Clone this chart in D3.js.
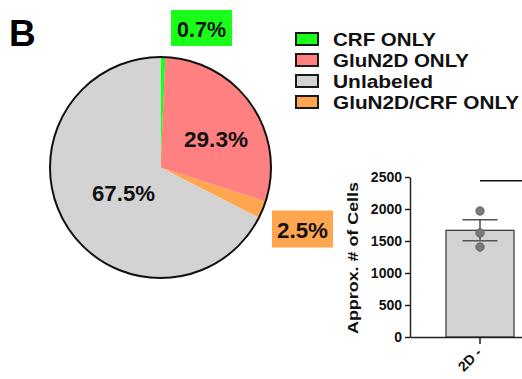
<!DOCTYPE html>
<html>
<head>
<meta charset="utf-8">
<script src="https://cdn.jsdelivr.net/npm/d3@7"></script>
<style>
  html, body { margin: 0; padding: 0; background: #fff; }
  svg { display: block; font-family: "Liberation Sans", Arial, sans-serif; }
</style>
</head>
<body>
<svg id="chart" width="522" height="379"></svg>
<script>
// Pie: share of cells per labelling group
const groups = ["CRF ONLY", "GluN2D ONLY", "Unlabeled", "GluN2D/CRF ONLY"];
const shares = [0.7, 29.3, 67.5, 2.5];
const groupColors = ["#19ff19", "#ff8080", "#d3d3d3", "#ffa64f"];
// draw order around the pie, clockwise from 12 o'clock
const pieOrder = [0, 1, 3, 2];

// Bar: approximate number of cells
const barCats = ["2D -"];
const barMeans = [1667];
const barSems = [164];
const barPoints = [[1969, 1625, 1406]];
const yTicks = [0, 500, 1000, 1500, 2000, 2500];
const sigLevel = 2440;

const svg = d3.select("#chart");

// Panel letter
svg.append("text").attr("x", 9).attr("y", 46)
  .attr("font-size", 37).attr("font-weight", "bold").text("B");

// ---- Pie ----
const cx = 160.5, cy = 167.5, R = 110.5;
const pieData = pieOrder.map(i => ({ i, v: shares[i] }));
const pie = d3.pie().sort(null).value(d => d.v).startAngle(0).endAngle(2 * Math.PI);
const arc = d3.arc().innerRadius(0).outerRadius(R);
const gPie = svg.append("g").attr("transform", `translate(${cx},${cy})`);
gPie.selectAll("path.slice").data(pie(pieData)).join("path")
  .attr("class", "slice")
  .attr("d", arc)
  .attr("fill", d => groupColors[d.data.i]);
gPie.append("circle").attr("r", R).attr("fill", "none")
  .attr("stroke", "#111").attr("stroke-width", 2);

// Percentage labels (offsets from the pie centre)
const labelSpec = [
  { i: 0, dx: 41, dy: -130.5, box: true, w: 61, h: 36, tl: 49 },
  { i: 1, dx: 55.5, dy: -20.5, box: false, tl: 64 },
  { i: 2, dx: -37, dy: 33.5, box: false, tl: 63 },
  { i: 3, dx: 142, dy: 70.5, box: true, w: 61, h: 37, tl: 51 }
];
labelSpec.forEach(s => {
  const g = svg.append("g").attr("transform", `translate(${cx + s.dx},${cy + s.dy})`);
  if (s.box) {
    g.append("rect").attr("x", -s.w / 2).attr("y", -s.h / 2 - 9)
      .attr("width", s.w).attr("height", s.h).attr("fill", groupColors[s.i]);
  }
  g.append("text").attr("text-anchor", "middle")
    .attr("font-size", 22).attr("font-weight", "bold").attr("fill", "#111")
    .attr("textLength", s.tl).attr("lengthAdjust", "spacingAndGlyphs")
    .text(d3.format(".1f")(shares[s.i]) + "%");
});

// ---- Legend ----
const legend = svg.append("g").attr("transform", "translate(296,33)");
groups.forEach((name, k) => {
  const row = legend.append("g").attr("transform", `translate(0,${k * 21})`);
  row.append("rect").attr("width", 22).attr("height", 12)
    .attr("fill", groupColors[k]).attr("stroke", "#1a1a1a").attr("stroke-width", 2);
  row.append("text").attr("x", 37).attr("y", 12.5)
    .attr("font-size", 19).attr("font-weight", "bold").attr("fill", "#111")
    .attr("textLength", [103, 136, 100, 186][k]).attr("lengthAdjust", "spacingAndGlyphs")
    .text(name);
});

// ---- Bar chart ----
const y = d3.scaleLinear().domain([0, 2500]).range([337, 177]);
const x = d3.scaleBand().domain(barCats).range([410, 550]).paddingInner(0.346).paddingOuter(0.346);

const yAxis = svg.append("g").attr("transform", "translate(410,0)")
  .call(d3.axisLeft(y).tickValues(yTicks).tickFormat(d3.format("d"))
    .tickSize(5).tickSizeOuter(0).tickPadding(3));
yAxis.select(".domain").attr("stroke", "#222").attr("stroke-width", 1.5);
yAxis.selectAll(".tick line").attr("stroke", "#222").attr("stroke-width", 1.5);
yAxis.selectAll(".tick text").attr("font-size", 14).attr("font-weight", "bold")
  .attr("fill", "#111").attr("font-family", "Liberation Sans, Arial, sans-serif");

const bw = x.bandwidth();
svg.append("g").selectAll("rect").data(barCats).join("rect")
  .attr("x", d => x(d)).attr("y", (d, k) => y(barMeans[k]))
  .attr("width", bw).attr("height", (d, k) => y(0) - y(barMeans[k]))
  .attr("fill", "#d3d3d3").attr("stroke", "#333").attr("stroke-width", 1.2);

const xAxis = svg.append("g").attr("transform", "translate(0,337)")
  .call(d3.axisBottom(x).tickSize(7).tickSizeOuter(0));
xAxis.select(".domain").attr("stroke", "#222").attr("stroke-width", 1.5);
xAxis.selectAll(".tick line").attr("stroke", "#222").attr("stroke-width", 1.5);
xAxis.selectAll(".tick text")
  .attr("font-size", 14).attr("font-weight", "bold").attr("fill", "#111")
  .attr("font-family", "Liberation Sans, Arial, sans-serif")
  .attr("text-anchor", "end")
  .attr("transform", "translate(-1,13) rotate(-45)")
  .attr("y", 0).attr("dy", "0.35em");

// error bars
barCats.forEach((c, k) => {
  const xc = x(c) + bw / 2;
  const g = svg.append("g").attr("stroke", "#555").attr("stroke-width", 1.6);
  g.append("line").attr("x1", xc).attr("x2", xc)
    .attr("y1", y(barMeans[k] + barSems[k])).attr("y2", y(barMeans[k] - barSems[k]));
  [barMeans[k] + barSems[k], barMeans[k] - barSems[k]].forEach(v => {
    g.append("line").attr("x1", xc - 17.5).attr("x2", xc + 17.5)
      .attr("y1", y(v)).attr("y2", y(v));
  });
  svg.append("g").selectAll("circle").data(barPoints[k]).join("circle")
    .attr("cx", xc).attr("cy", v => y(v)).attr("r", 4.2)
    .attr("fill", "#7a7a7a").attr("stroke", "#555").attr("stroke-width", 0.8);
  // comparison line running to the next group
  svg.append("line").attr("x1", xc).attr("x2", 600)
    .attr("y1", y(sigLevel)).attr("y2", y(sigLevel))
    .attr("stroke", "#111").attr("stroke-width", 1.5);
});

// y-axis title
svg.append("text")
  .attr("transform", `translate(358,${(y(0) + y(2500)) / 2 + 1}) rotate(-90)`)
  .attr("text-anchor", "middle").attr("font-size", 15).attr("font-weight", "bold")
  .attr("fill", "#111").attr("textLength", 152).attr("lengthAdjust", "spacingAndGlyphs")
  .text("Approx. # of Cells");
</script>
</body>
</html>
